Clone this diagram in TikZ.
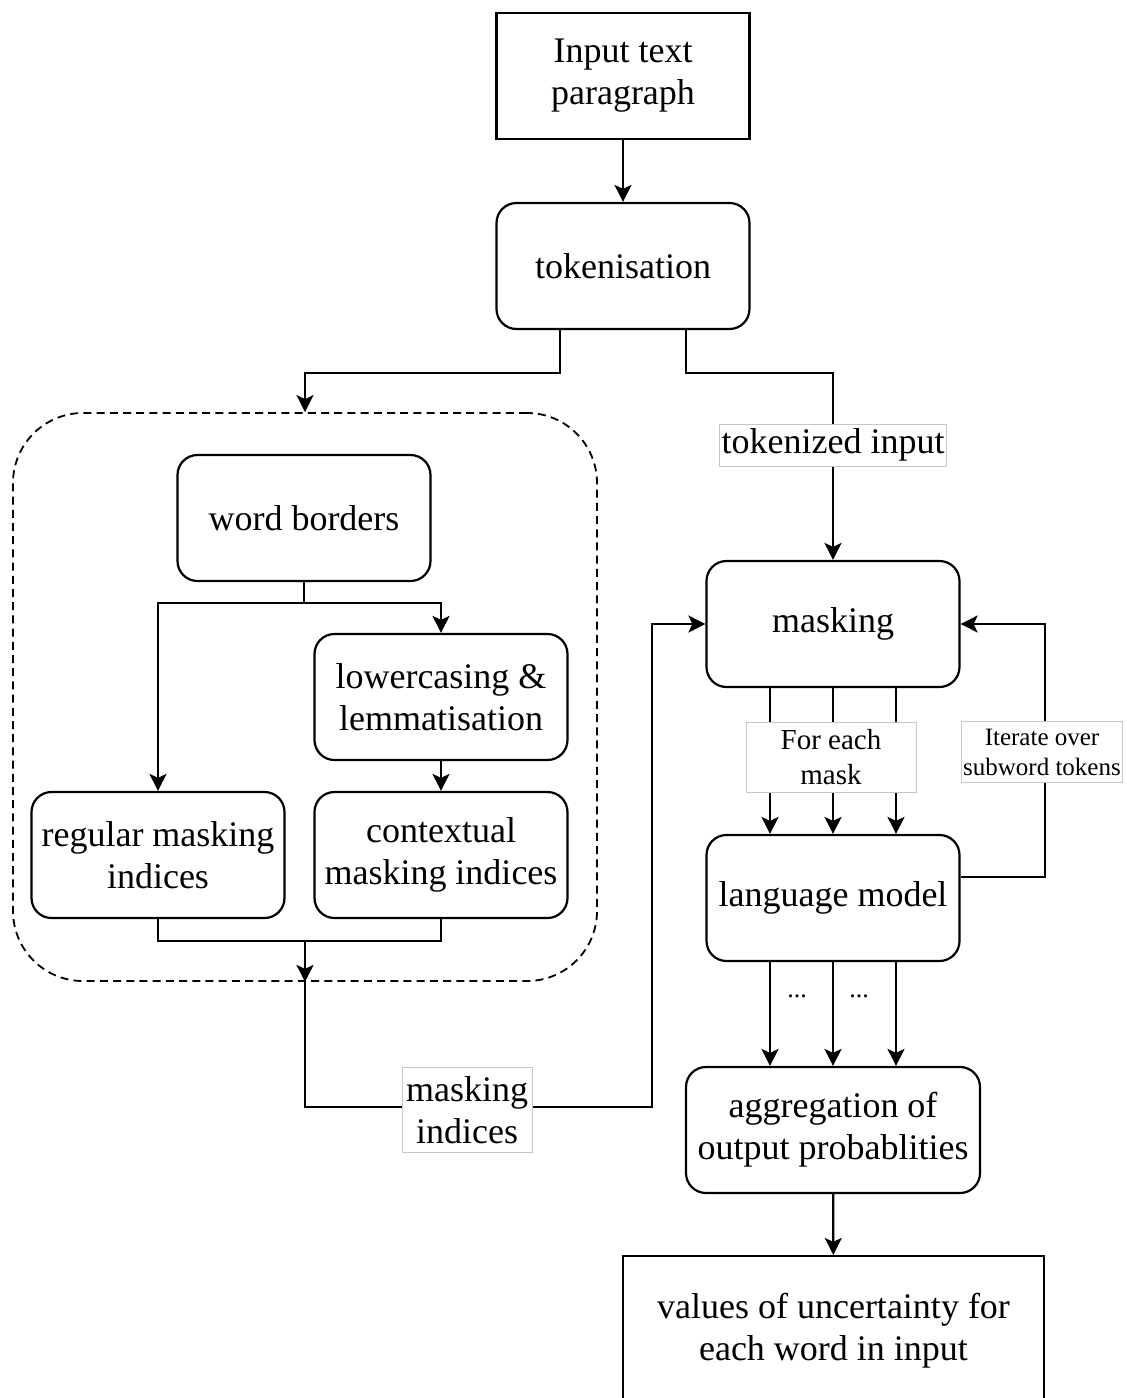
\documentclass[tikz,border=0pt]{standalone}
\usepackage{fontspec}
\setmainfont{Liberation Serif}
\usetikzlibrary{arrows.meta}
\begin{document}
\begin{tikzpicture}[x=0.5pt,y=-0.5pt,
  box/.style={draw,line width=1.1pt,rounded corners=10pt,minimum width=126.5pt,minimum height=63pt,align=center,font=\fontsize{18}{21}\selectfont,inner sep=2pt},
  sharpbox/.style={box,rounded corners=0pt},
  lbl/.style={draw=black!22,line width=0.5pt,fill=white,align=center,inner sep=1pt},
  con/.style={line width=1.1pt,-{Stealth[length=8.5pt,width=8.5pt,inset=2pt]}},
  plain/.style={line width=1.1pt}]
\useasboundingbox (0,0) rectangle (1126,1398);

% nodes
\node[sharpbox] (inp) at (623,76) {Input text\\paragraph};
\node[box] (tok) at (623,266) {tokenisation};
\node[draw,line width=0.9pt,dash pattern=on 4pt off 2.6pt,rounded corners=35pt,minimum width=292pt,minimum height=284pt] (grp) at (305,697) {};
\node[box] (wb) at (304,518) {word borders};
\node[box] (low) at (441,697) {lowercasing \&\\lemmatisation};
\node[box] (reg) at (158,855) {regular masking\\indices};
\node[box] (ctx) at (441,855) {contextual\\masking indices};
\node[box] (mask) at (833,624) {masking};
\node[box] (lm) at (833,898) {language model};
\node[box,minimum width=147pt] (agg) at (833,1130) {aggregation of\\output probablities};
\node[sharpbox,minimum width=210.5pt,minimum height=75pt] (val) at (833.5,1331) {values of uncertainty for\\each word in input};

\coordinate (j) at (grp.south |- 0,940);
\coordinate (c1) at (652,1107);
\coordinate (c2) at (1045,877);

% connectors
\draw[con] (inp) -- (tok);
\draw[con] ([shift={(-63,0)}]tok.south) -- ++(0,43) -| (grp.north);
\draw[con] ([shift={(63,0)}]tok.south) -- ++(0,43) -| (mask.north)
  node[lbl,pos=0.693,font=\fontsize{18}{21}\selectfont,minimum width=110pt,minimum height=21pt] (tokl) {tokenized input};

\draw[con] (wb.south) -- ++(0,21) -| (low.north);
\draw[con] (wb.south) -- ++(0,21) -| (reg.north);
\draw[con] (low) -- (ctx);
\draw[plain] (reg.south) -- ++(0,22) -| (ctx.south);
\draw[con] (j) -- (grp.south);
\draw[con] (grp.south) |- (c1) |- (mask.west);
\node[lbl,font=\fontsize{18}{21}\selectfont,minimum width=65pt,minimum height=42.5pt] (mi) at (467,1110) {masking\\indices};

\foreach \dx in {-63,0,63}{
  \draw[con] ([shift={(\dx,0)}]mask.south) -- ([shift={(\dx,0)}]lm.north);
  \draw[con] ([shift={(\dx,0)}]lm.south) -- ([shift={(\dx,0)}]agg.north);
}
\node[lbl,font=\fontsize{14.5}{17.5}\selectfont,minimum width=85pt,minimum height=35pt] (fem) at (831,757) {For each\\mask};

\draw[con] ([shift={(0,-21)}]lm.east) -- (c2) |- (mask.east);
\node[lbl,font=\fontsize{12.5}{15}\selectfont,minimum width=79pt,minimum height=30.5pt] (itr) at (1042,752) {Iterate over\\subword tokens};

\node[font=\fontsize{13}{15}\selectfont] (d1) at (797,996) {...};
\node[font=\fontsize{13}{15}\selectfont] (d2) at (859,996) {...};

\draw[con] (agg) -- (val);
\end{tikzpicture}
\end{document}
